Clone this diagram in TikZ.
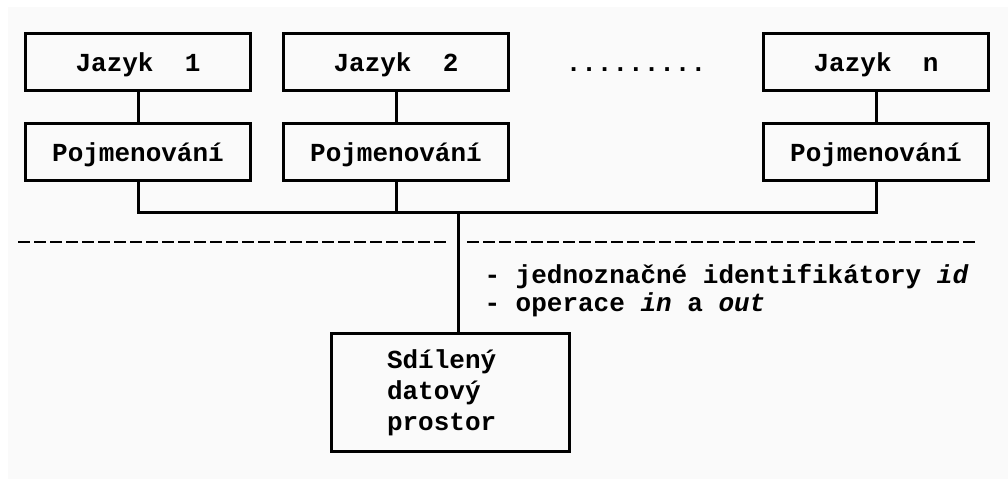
\documentclass[tikz,border=0pt]{standalone}
\usepackage{fontspec}
\setmonofont{Liberation Mono}
\usetikzlibrary{positioning, calc}

\begin{document}
\begin{tikzpicture}[x=1pt, y=-1pt, node distance=30pt, line width=3pt]
    \tikzstyle{txt} = [font=\ttfamily\bfseries\fontsize{26}{31}\selectfont, text height=20pt, text depth=2pt, inner sep=0pt]
    \tikzstyle{main} = [txt, draw, minimum width=225pt, minimum height=57pt]
    \tikzstyle{store} = [draw, font=\ttfamily\bfseries\fontsize{26}{31}\selectfont, align=left, text width=127pt, inner xsep=55.5pt, minimum height=118pt]
    \tikzstyle{note} = [font=\ttfamily\bfseries\fontsize{26}{28}\selectfont, align=left, inner sep=0pt]
    \tikzstyle{sep} = [line width=2pt, dash pattern=on 12pt off 4pt]

    % paper
    \useasboundingbox (0,0) rectangle (1008,479);
    \fill[black!2] (8,7) rectangle (1008,479);

    % Top row (languages)
    \node[main] (1j) at (138,62) {Jazyk\ \ 1};
    \node[main] (2j) [right=30pt of 1j] {Jazyk\ \ 2};
    \node[main] (nj) [right=252pt of 2j] {Jazyk\ \ n};
    \node[txt] (dots) at ($(2j)!0.5!(nj)$) {.........};

    % Second row (naming)
    \node[main] (1p) [below=of 1j] {Pojmenování};
    \node[main] (2p) [below=of 2j] {Pojmenování};
    \node[main] (np) [below=of nj] {Pojmenování};

    % Shared space
    \coordinate (bus) at (458,212);
    \node[store] (space) at (450.5,392.5) {Sdílený\\datový\\prostor};
    \node[note, anchor=west] (props) at (483,291) {- jednoznačné identifikátory \textit{id}\\- operace \textit{in} a \textit{out}};

    % Separator
    \coordinate (sepA) at (18,242);
    \coordinate (sepB) at (448,242);
    \coordinate (sepC) at (467,242);
    \coordinate (sepD) at (977,242);
    \draw[sep] (sepA) -- (sepB);
    \draw[sep] (sepC) -- (sepD);

    % Lines
    \draw (1j) -- (1p);
    \draw (2j) -- (2p);
    \draw (nj) -- (np);
    \draw (1p.south) -- ++(0,30) -| (np.south);
    \draw (2p.south) -- (2p.south |- bus);
    \draw (bus) -- (bus |- space.north);
\end{tikzpicture}
\end{document}
